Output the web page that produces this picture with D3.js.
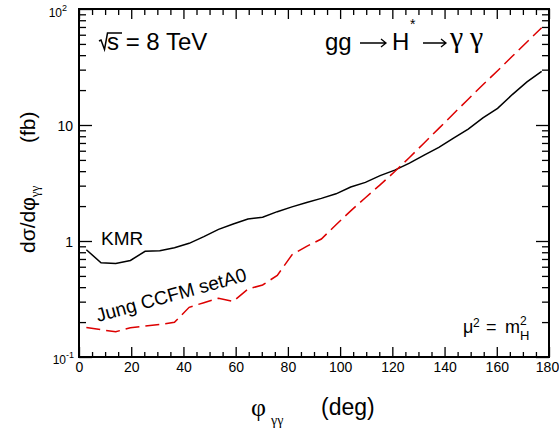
<!DOCTYPE html>
<html><head><meta charset="utf-8">
<script src="https://cdn.jsdelivr.net/npm/d3@7"></script>
<style>
body{margin:0;background:#fff;}
svg{display:block;}
text{font-family:"Liberation Sans",Arial,Helvetica,sans-serif;fill:#000;}
.serif{font-family:"Liberation Serif","Times New Roman",serif;}
</style></head>
<body>
<svg id="c" width="559" height="429"></svg>
<script>
// ---- data ----
const phi = [2.8125, 8.4375, 14.0625, 19.6875, 25.3125, 30.9375, 36.5625, 42.1875,
  47.8125, 53.4375, 59.0625, 64.6875, 70.3125, 75.9375, 81.5625, 87.1875,
  92.8125, 98.4375, 104.0625, 109.6875, 115.3125, 120.9375, 126.5625, 132.1875,
  137.8125, 143.4375, 149.0625, 154.6875, 160.3125, 165.9375, 171.5625, 177.1875];
const kmr = [0.84, 0.65, 0.64, 0.68, 0.815, 0.825, 0.875, 0.955, 1.09, 1.26, 1.40, 1.55,
  1.60, 1.79, 1.97, 2.15, 2.33, 2.55, 2.92, 3.20, 3.66, 4.08, 4.69, 5.5, 6.42, 7.71,
  9.23, 11.5, 13.9, 18.3, 23.5, 29.0];
const jung = [0.180, 0.172, 0.165, 0.179, 0.185, 0.191, 0.199, 0.268, 0.294, 0.321, 0.302,
  0.385, 0.418, 0.505, 0.76, 0.90, 1.04, 1.38, 1.82, 2.36, 3.05, 3.97, 5.25, 7.0, 9.35,
  12.5, 16.7, 22.2, 29.4, 39.1, 52.0, 69.0];
const xTicks = [0, 20, 40, 60, 80, 100, 120, 140, 160, 180];
const yTickLabels = [
  {v: 0.1, base: "10", exp: "-1"},
  {v: 1, base: "1", exp: ""},
  {v: 10, base: "10", exp: ""},
  {v: 100, base: "10", exp: "2"}
];
const seriesNames = ["KMR", "Jung CCFM setA0"];

// ---- layout ----
const L = 79, R = 549, T = 9, B = 357;
const x = d3.scaleLinear().domain([0, 180]).range([L, R]);
const y = d3.scaleLog().domain([0.1, 100]).range([B, T]);
const svg = d3.select("#c");

const xMinor = d3.range(0, 181, 5).filter(v => v % 20 !== 0);
const yMajor = [0.1, 1, 10, 100];
const yMinor = [];
[0.1, 1, 10].forEach(d => { for (let k = 2; k <= 9; k++) yMinor.push(d * k); });

function styleAxis(g){
  g.select(".domain").remove();
  g.selectAll(".tick line").attr("stroke", "#000").attr("stroke-width", 1.3);
}
// bottom
svg.append("g").attr("transform", `translate(0,${B})`)
  .call(d3.axisBottom(x).tickValues(xTicks).tickSizeInner(-10).tickSizeOuter(0).tickPadding(5).tickFormat(d3.format("d")))
  .call(styleAxis)
  .call(g => g.selectAll("text").attr("font-size", 14).attr("font-family", "Liberation Sans, Arial, sans-serif"))
  .call(g => g.selectAll(".tick").filter(d => d === 180).select("text").attr("dx", -2));
svg.append("g").attr("transform", `translate(0,${B})`)
  .call(d3.axisBottom(x).tickValues(xMinor).tickSizeInner(-5).tickSizeOuter(0).tickFormat(""))
  .call(styleAxis);
// top
svg.append("g").attr("transform", `translate(0,${T})`)
  .call(d3.axisTop(x).tickValues(xTicks).tickSizeInner(-10).tickSizeOuter(0).tickFormat(""))
  .call(styleAxis);
svg.append("g").attr("transform", `translate(0,${T})`)
  .call(d3.axisTop(x).tickValues(xMinor).tickSizeInner(-6).tickSizeOuter(0).tickFormat(""))
  .call(styleAxis);
// left
svg.append("g").attr("transform", `translate(${L},0)`)
  .call(d3.axisLeft(y).tickValues(yMajor).tickSizeInner(-13).tickSizeOuter(0).tickFormat(""))
  .call(styleAxis);
svg.append("g").attr("transform", `translate(${L},0)`)
  .call(d3.axisLeft(y).tickValues(yMinor).tickSizeInner(-7).tickSizeOuter(0).tickFormat(""))
  .call(styleAxis);
// right
svg.append("g").attr("transform", `translate(${R},0)`)
  .call(d3.axisRight(y).tickValues(yMajor).tickSizeInner(-13).tickSizeOuter(0).tickFormat(""))
  .call(styleAxis);
svg.append("g").attr("transform", `translate(${R},0)`)
  .call(d3.axisRight(y).tickValues(yMinor).tickSizeInner(-7).tickSizeOuter(0).tickFormat(""))
  .call(styleAxis);

// frame
svg.append("rect").attr("x", L).attr("y", T).attr("width", R - L).attr("height", B - T)
  .attr("fill", "none").attr("stroke", "#000").attr("stroke-width", 2);

// y tick labels
yTickLabels.forEach(t => {
  let yy = y(t.v) + 6, xe = 73;
  if (t.v === 100) { yy = 17; xe = 67; }
  if (t.v === 0.1) { yy = 364; xe = 74; }
  const fs = t.exp ? 12 : 14;
  const tx = svg.append("text").attr("text-anchor", "end").attr("x", xe).attr("y", yy).attr("font-size", fs);
  tx.append("tspan").text(t.base);
  if (t.exp) tx.append("tspan").attr("font-size", 9).attr("dy", -6).text(t.exp);
});

// curves
const line = d3.line().x((d, i) => x(phi[i])).y(d => y(d));
svg.append("path").datum(kmr).attr("d", line)
  .attr("fill", "none").attr("stroke", "#000").attr("stroke-width", 1.5);
svg.append("path").datum(jung).attr("d", line)
  .attr("fill", "none").attr("stroke", "#dd0000").attr("stroke-width", 1.5)
  .attr("stroke-dasharray", "14,6");

// series labels
svg.append("text").attr("x", 101).attr("y", 245).attr("font-size", 19).text(seriesNames[0]);
svg.append("text").attr("transform", "translate(98,322) rotate(-15.5)").attr("font-size", 19).text(seriesNames[1]);

// sqrt(s) = 8 TeV
svg.append("path").attr("d", "M99,41 L101,40 L104.5,49.5 L107.5,33 L122,33")
  .attr("fill", "none").attr("stroke", "#000").attr("stroke-width", 1.5);
svg.append("text").attr("x", 107).attr("y", 49.5).attr("font-size", 24).text("s = 8 TeV");

// process title
function arrow(x0, x1, yy){
  svg.append("path").attr("d", `M${x0},${yy} H${x1} M${x1-5},${yy-4} L${x1},${yy} L${x1-5},${yy+4}`)
    .attr("fill", "none").attr("stroke", "#000").attr("stroke-width", 1.3);
}
svg.append("text").attr("x", 325).attr("y", 49.5).attr("font-size", 24).text("gg");
arrow(360, 386, 43);
svg.append("text").attr("x", 392).attr("y", 49.5).attr("font-size", 24).text("H");
svg.append("text").attr("x", 410).attr("y", 29).attr("font-size", 14).text("*");
arrow(423, 446, 43);
svg.append("text").attr("class", "serif").attr("x", 450).attr("y", 47).attr("font-size", 30).text("\u03b3");
svg.append("text").attr("class", "serif").attr("x", 470).attr("y", 47).attr("font-size", 30).text("\u03b3");

// mu^2 = m_H^2
svg.append("text").attr("x", 463).attr("y", 333).attr("font-size", 18).text("\u03bc");
svg.append("text").attr("x", 473).attr("y", 327).attr("font-size", 12).text("2");
svg.append("text").attr("x", 486).attr("y", 333).attr("font-size", 18).text("=");
svg.append("text").attr("x", 505).attr("y", 333).attr("font-size", 18).text("m");
svg.append("text").attr("x", 520).attr("y", 325).attr("font-size", 12).text("2");
svg.append("text").attr("x", 520).attr("y", 340).attr("font-size", 13).text("H");

// x axis title
svg.append("text").attr("class", "serif").attr("x", 251).attr("y", 416).attr("font-size", 26).text("\u03c6");
svg.append("text").attr("class", "serif").attr("x", 271).attr("y", 425).attr("font-size", 14).text("\u03b3\u03b3");
svg.append("text").attr("x", 321).attr("y", 415).attr("font-size", 23).text("(deg)");

// y axis title
const yt = svg.append("text").attr("transform", "translate(35,253) rotate(-90)").attr("font-size", 21);
yt.append("tspan").text("d\u03c3/d\u03c6");
yt.append("tspan").attr("class", "serif").attr("font-size", 13).attr("dy", 4).text("\u03b3\u03b3");
yt.append("tspan").attr("x", 110).attr("dy", -4).text("(fb)");
</script>
</body></html>
